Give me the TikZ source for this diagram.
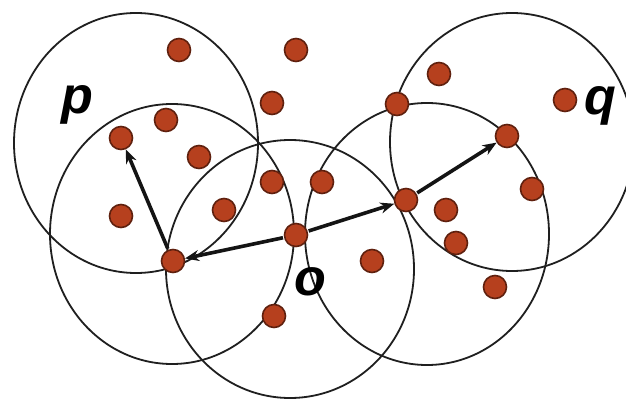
\documentclass[tikz,border=0pt]{standalone}
\usepackage{fontspec}
\setmainfont{Liberation Sans}
\usetikzlibrary{arrows.meta}
\definecolor{dotfill}{RGB}{182,64,30}
\definecolor{dotedge}{RGB}{95,32,14}
\tikzset{
  ring/.style={draw=black!88, line width=1.8pt},
  pt/.style={circle, fill=dotfill, draw=dotedge, line width=1.6pt, minimum size=23pt, inner sep=0pt},
  arr/.style={draw=black!92, line width=3.6pt, -{Stealth[length=14pt,width=11pt]}, shorten <=1pt, shorten >=0pt},
  lbl/.style={inner sep=0pt, font=\fontsize{52}{52}\selectfont\bfseries\itshape}
}
\begin{document}
\begin{tikzpicture}[x=1pt,y=-1pt]
\useasboundingbox (0,0) rectangle (626,403);
\fill[white] (0,0) rectangle (626,403);
% circles (slightly taller than wide, as in the reference)
\draw[ring] (136,143) ellipse [x radius=122, y radius=130];
\draw[ring] (172,234) ellipse [x radius=122, y radius=130];
\draw[ring] (290,269) ellipse [x radius=124, y radius=129];
\draw[ring] (427,234) ellipse [x radius=122, y radius=131];
\draw[ring] (512,142) ellipse [x radius=122, y radius=129];
% points
\node[pt] (d1) at (179,50) {};
\node[pt] (d2) at (296,50) {};
\node[pt] (d3) at (272,103) {};
\node[pt] (d4) at (166,120) {};
\node[pt] (d5) at (121,138) {};
\node[pt] (d6) at (199,157) {};
\node[pt] (d7) at (121,216) {};
\node[pt] (d8) at (224,210) {};
\node[pt] (d9) at (272,182) {};
\node[pt] (d10) at (322,182) {};
\node[pt] (d11) at (296,235) {};
\node[pt] (d12) at (173,261) {};
\node[pt] (d13) at (274,316) {};
\node[pt] (d14) at (372,261) {};
\node[pt] (d15) at (406,200) {};
\node[pt] (d16) at (446,210) {};
\node[pt] (d17) at (456,243) {};
\node[pt] (d18) at (495,287) {};
\node[pt] (d19) at (532,189) {};
\node[pt] (d20) at (507,136) {};
\node[pt] (d21) at (439,74) {};
\node[pt] (d22) at (397,104) {};
\node[pt] (d23) at (565,100) {};
% arrows
\draw[arr] (d12) -- (d5);
\draw[arr] (d11) -- (d12);
\draw[arr] (d11) -- (d15);
\draw[arr] (d15) -- (d20);
% labels
\node[lbl] (p) at (77,105) {p};
\node[lbl] (q) at (600,106) {q};
\node[lbl] (o) at (310,282) {o};
\end{tikzpicture}
\end{document}
